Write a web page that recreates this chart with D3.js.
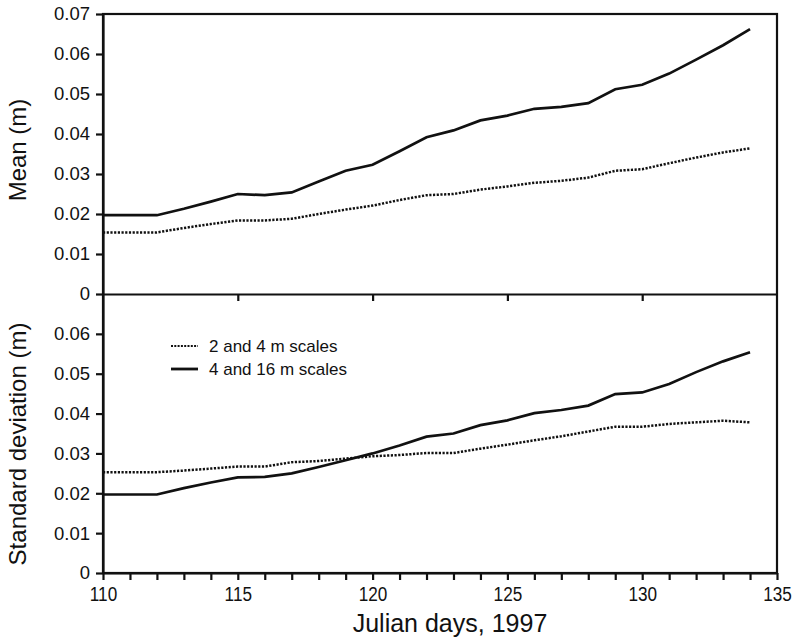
<!DOCTYPE html>
<html>
<head>
<meta charset="utf-8">
<script src="https://cdn.jsdelivr.net/npm/d3@7"></script>
<style>
	body { margin: 0; background: #fff; }
	svg { display: block; font-family: "Liberation Sans", Arial, sans-serif; }
	.axis path, .axis line { stroke: #111; stroke-width: 2.2; }
	.axis text { fill: #111; }
</style>
</head>
<body>
<svg id="chart" width="797" height="640"></svg>
<script>
// julian days, 1997
const days = [110, 111, 112, 113, 114, 115, 116, 117, 118, 119, 120, 121, 122,
	123, 124, 125, 126, 127, 128, 129, 130, 131, 132, 133, 134]
const xTicks = [110, 111, 112, 113, 114, 115, 116, 117, 118, 119, 120, 121, 122,
	123, 124, 125, 126, 127, 128, 129, 130, 131, 132, 133, 134, 135]
const midTicks = [115, 120, 125, 130]
const yTicksTop = [0, 0.01, 0.02, 0.03, 0.04, 0.05, 0.06, 0.07]
const yTicksBottom = [0, 0.01, 0.02, 0.03, 0.04, 0.05, 0.06]

// mean (m)
const meanFine = [0.0154, 0.0154, 0.0154, 0.0165, 0.0175, 0.0184, 0.0184, 0.0188, 0.0200,
	0.0211, 0.0221, 0.0235, 0.0247, 0.0250, 0.0261, 0.0269, 0.0278, 0.0283, 0.0291,
	0.0308, 0.0312, 0.0327, 0.0341, 0.0354, 0.0364]
const meanCoarse = [0.0197, 0.0197, 0.0197, 0.0213, 0.0231, 0.0250, 0.0247, 0.0254, 0.0281,
	0.0308, 0.0323, 0.0357, 0.0392, 0.0409, 0.0434, 0.0446, 0.0463, 0.0468, 0.0477,
	0.0512, 0.0523, 0.0551, 0.0586, 0.0622, 0.0662]
// standard deviation (m)
const sdFine = [0.0253, 0.0253, 0.0253, 0.0257, 0.0262, 0.0267, 0.0267, 0.0278, 0.0281,
	0.0287, 0.0293, 0.0296, 0.0301, 0.0301, 0.0312, 0.0322, 0.0333, 0.0343, 0.0355,
	0.0367, 0.0367, 0.0374, 0.0378, 0.0382, 0.0378]
const sdCoarse = [0.0197, 0.0197, 0.0197, 0.0213, 0.0227, 0.0240, 0.0241, 0.0250, 0.0266,
	0.0283, 0.0300, 0.0320, 0.0342, 0.0350, 0.0371, 0.0383, 0.0401, 0.0409, 0.0420,
	0.0449, 0.0453, 0.0474, 0.0504, 0.0531, 0.0554]

const legendLabels = ['2 and 4 m scales', '4 and 16 m scales']

const plotL = 103, plotR = 777, plotT = 14, plotM = 294, plotB = 573

const svg = d3.select('#chart')

const x = d3.scaleLinear().domain([110, 135]).range([plotL, plotR])
const yTop = d3.scaleLinear().domain([0, 0.07]).range([plotM, plotT])
const yBot = d3.scaleLinear().domain([0, 0.07]).range([plotB, plotM])

const fmt = d => d === 0 ? '0' : d3.format('.2f')(d)
const dotted = '2.2,1.5'

// frame
svg.append('rect')
	.attr('x', plotL).attr('y', plotT)
	.attr('width', plotR - plotL).attr('height', plotB - plotT)
	.attr('fill', 'none').attr('stroke', '#111').attr('stroke-width', 2.2)

function yAxis(scale, ticks) {
	const g = svg.append('g')
		.attr('class', 'axis')
		.attr('transform', `translate(${plotL},0)`)
		.call(d3.axisLeft(scale).tickValues(ticks).tickFormat(fmt)
			.tickSize(7).tickSizeOuter(0).tickPadding(6))
	g.selectAll('text').style('font-size', '18.5px')
	return g
}
yAxis(yTop, yTicksTop)
yAxis(yBot, yTicksBottom)

// middle divider with inner ticks
svg.append('g')
	.attr('class', 'axis')
	.attr('transform', `translate(0,${plotM})`)
	.call(d3.axisBottom(x).tickValues(midTicks).tickFormat('').tickSize(7).tickSizeOuter(0))

// bottom x axis
const xg = svg.append('g')
	.attr('class', 'axis')
	.attr('transform', `translate(0,${plotB})`)
	.call(d3.axisBottom(x).tickValues(xTicks)
		.tickFormat(d => d % 5 === 0 ? d : '')
		.tickSize(7).tickSizeOuter(0).tickPadding(7))
xg.selectAll('text').style('font-size', '19.5px').attr('transform', 'scale(0.88,1)')

// lines
const series = [
	{ y: yTop, v: meanFine, dash: dotted, w: 2.5 },
	{ y: yTop, v: meanCoarse, dash: null, w: 2.7 },
	{ y: yBot, v: sdFine, dash: dotted, w: 2.5 },
	{ y: yBot, v: sdCoarse, dash: null, w: 2.7 }
]
series.forEach(s => {
	const line = d3.line()
		.x((d, i) => x(days[i]))
		.y(d => s.y(d))
	svg.append('path')
		.attr('d', line(s.v))
		.attr('fill', 'none')
		.attr('stroke', '#111')
		.attr('stroke-width', s.w)
		.attr('stroke-dasharray', s.dash)
})

// legend
const leg = svg.append('g').attr('transform', 'translate(171,346)')
legendLabels.forEach((lab, i) => {
	leg.append('line')
		.attr('x1', 0).attr('x2', 27)
		.attr('y1', i * 23).attr('y2', i * 23)
		.attr('stroke', '#111')
		.attr('stroke-width', i === 0 ? 2.2 : 2.8)
		.attr('stroke-dasharray', i === 0 ? '2,1.3' : null)
	leg.append('text')
		.attr('x', 38).attr('y', i * 23)
		.attr('dy', '0.35em')
		.style('font-size', '17px')
		.attr('fill', '#111')
		.text(lab)
})

// titles
svg.append('text')
	.attr('transform', 'translate(18,150) rotate(-90)')
	.attr('text-anchor', 'middle')
	.attr('dy', '0.35em')
	.style('font-size', '24px')
	.attr('fill', '#111')
	.text('Mean (m)')

svg.append('text')
	.attr('transform', 'translate(18,444) rotate(-90)')
	.attr('text-anchor', 'middle')
	.attr('dy', '0.35em')
	.style('font-size', '24px')
	.attr('fill', '#111')
	.text('Standard deviation (m)')

svg.append('text')
	.attr('x', 450).attr('y', 632)
	.attr('text-anchor', 'middle')
	.style('font-size', '25px')
	.attr('fill', '#111')
	.text('Julian days, 1997')
</script>
</body>
</html>
